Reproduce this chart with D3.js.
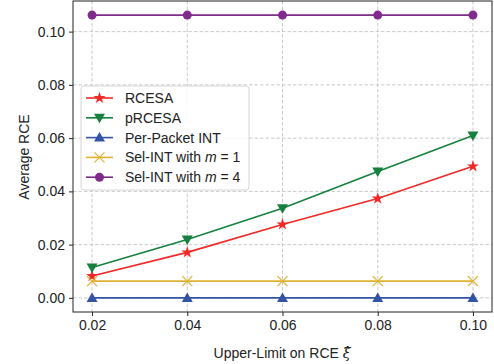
<!DOCTYPE html>
<html>
<head>
<meta charset="utf-8">
<script src="https://d3js.org/d3.v7.min.js"></script>
<style>
  body { margin: 0; background: #fff; }
  svg text { font-family: "Liberation Sans", Arial, sans-serif; fill: #222; }
</style>
</head>
<body>
<div class="chart"></div>
<script>
// values
var xs = [0.02, 0.04, 0.06, 0.08, 0.10];
var rcesa = [0.0082, 0.0171, 0.0276, 0.0373, 0.0494];
var prcesa = [0.0114, 0.0219, 0.0337, 0.0475, 0.0610];
var perPacket = [0, 0, 0, 0, 0];
var selM1 = [0.0063, 0.0063, 0.0063, 0.0063, 0.0063];
var selM4 = [0.1062, 0.1062, 0.1062, 0.1062, 0.1062];
var yTicks = [0.00, 0.02, 0.04, 0.06, 0.08, 0.10];

var series = [
  {name: "RCESA", vals: rcesa, color: "#f02828", marker: "star"},
  {name: "pRCESA", vals: prcesa, color: "#16803e", marker: "tridown"},
  {name: "Per-Packet INT", vals: perPacket, color: "#3553a5", marker: "triup"},
  {name: "Sel-INT with m = 1", vals: selM1, color: "#e0b233", marker: "x"},
  {name: "Sel-INT with m = 4", vals: selM4, color: "#7f2b8c", marker: "circle"}
];

var w = 494, h = 364;
var mLeft = 73, mRight = 492, mTop = 1, mBottom = 312;

var x = d3.scaleLinear().domain([0.016, 0.104]).range([mLeft, mRight]);
var y = d3.scaleLinear().domain([-0.0053, 0.1115]).range([mBottom, mTop]);

var svg = d3.select("div.chart").append("svg")
  .attr("width", w).attr("height", h);

// grid
svg.append("g").selectAll("line").data(xs).enter().append("line")
  .attr("x1", function(d){ return x(d); }).attr("x2", function(d){ return x(d); })
  .attr("y1", mTop).attr("y2", mBottom)
  .attr("stroke", "#c4c4c4").attr("stroke-width", 0.9).attr("stroke-dasharray", "3.5,2");
svg.append("g").selectAll("line").data(yTicks).enter().append("line")
  .attr("y1", function(d){ return y(d); }).attr("y2", function(d){ return y(d); })
  .attr("x1", mLeft).attr("x2", mRight)
  .attr("stroke", "#c4c4c4").attr("stroke-width", 0.9).attr("stroke-dasharray", "3.5,2");

// axes
var xAxis = d3.axisBottom(x).tickValues(xs).tickFormat(d3.format(".2f")).tickSize(4).tickPadding(4);
var yAxis = d3.axisLeft(y).tickValues(yTicks).tickFormat(d3.format(".2f")).tickSize(4).tickPadding(4);
var gx = svg.append("g").attr("transform", "translate(0," + mBottom + ")").call(xAxis);
var gy = svg.append("g").attr("transform", "translate(" + mLeft + ",0)").call(yAxis);
[gx, gy].forEach(function(g){
  g.select(".domain").remove();
  g.selectAll("line").attr("stroke", "#222");
  g.selectAll("text").style("font-size", "14px").attr("fill", "#222");
});

svg.append("rect").attr("x", mLeft).attr("y", mTop).attr("width", mRight - mLeft).attr("height", mBottom - mTop)
  .attr("fill", "none").attr("stroke", "#222").attr("stroke-width", 1);

// marker drawing
function drawMarker(g, type, color) {
  if (type === "circle") {
    g.append("circle").attr("r", 4.5).attr("fill", color);
  } else if (type === "star") {
    g.append("path").attr("d", d3.symbol().type(d3.symbolStar).size(45)()).attr("fill", color);
  } else if (type === "triup") {
    g.append("path").attr("d", "M0,-5.5L5.5,4L-5.5,4Z").attr("fill", color);
  } else if (type === "tridown") {
    g.append("path").attr("d", "M0,5.5L5.5,-4L-5.5,-4Z").attr("fill", color);
  } else if (type === "x") {
    g.append("path").attr("d", "M-5,-5L5,5M-5,5L5,-5").attr("stroke", color).attr("stroke-width", 1.3)
      .attr("fill", "none");
  }
}

var line = d3.line()
  .x(function(d, i){ return x(xs[i]); })
  .y(function(d){ return y(d); });

series.forEach(function(s){
  svg.append("path").attr("d", line(s.vals))
    .attr("fill", "none").attr("stroke", s.color).attr("stroke-width", 1.6);
  s.vals.forEach(function(v, i){
    var g = svg.append("g").attr("transform", "translate(" + x(xs[i]) + "," + y(v) + ")");
    drawMarker(g, s.marker, s.color);
  });
});

// legend
var lg = svg.append("g");
lg.append("rect").attr("x", 81).attr("y", 86).attr("width", 168).attr("height", 104).attr("rx", 3)
  .attr("fill", "#fff").attr("fill-opacity", 0.85).attr("stroke", "#d6d6d6");
series.forEach(function(s, i){
  var ly = 98 + i * 19.8;
  lg.append("line").attr("x1", 86).attr("x2", 113).attr("y1", ly).attr("y2", ly)
    .attr("stroke", s.color).attr("stroke-width", 1.6);
  var g = lg.append("g").attr("transform", "translate(99.5," + ly + ")");
  drawMarker(g, s.marker, s.color);
  var t = lg.append("text").attr("x", 125).attr("y", ly + 5).style("font-size", "14px");
  if (s.name.indexOf(" m = ") > 0) {
    var parts = s.name.split(" m ");
    t.append("tspan").text(parts[0] + " ");
    t.append("tspan").style("font-style", "italic").text("m");
    t.append("tspan").text(" " + parts[1]);
  } else {
    t.text(s.name);
  }
});

// axis labels
var xl = svg.append("text").attr("x", 282).attr("y", 358).attr("text-anchor", "middle").style("font-size", "14px");
xl.append("tspan").text("Upper-Limit on RCE ");
xl.append("tspan").style("font-family", "'DejaVu Serif', serif").style("font-style", "italic").text("\u03BE\u0302");

svg.append("text").attr("transform", "translate(29,157) rotate(-90)").attr("text-anchor", "middle")
  .style("font-size", "14px").text("Average RCE");
</script>
</body>
</html>
